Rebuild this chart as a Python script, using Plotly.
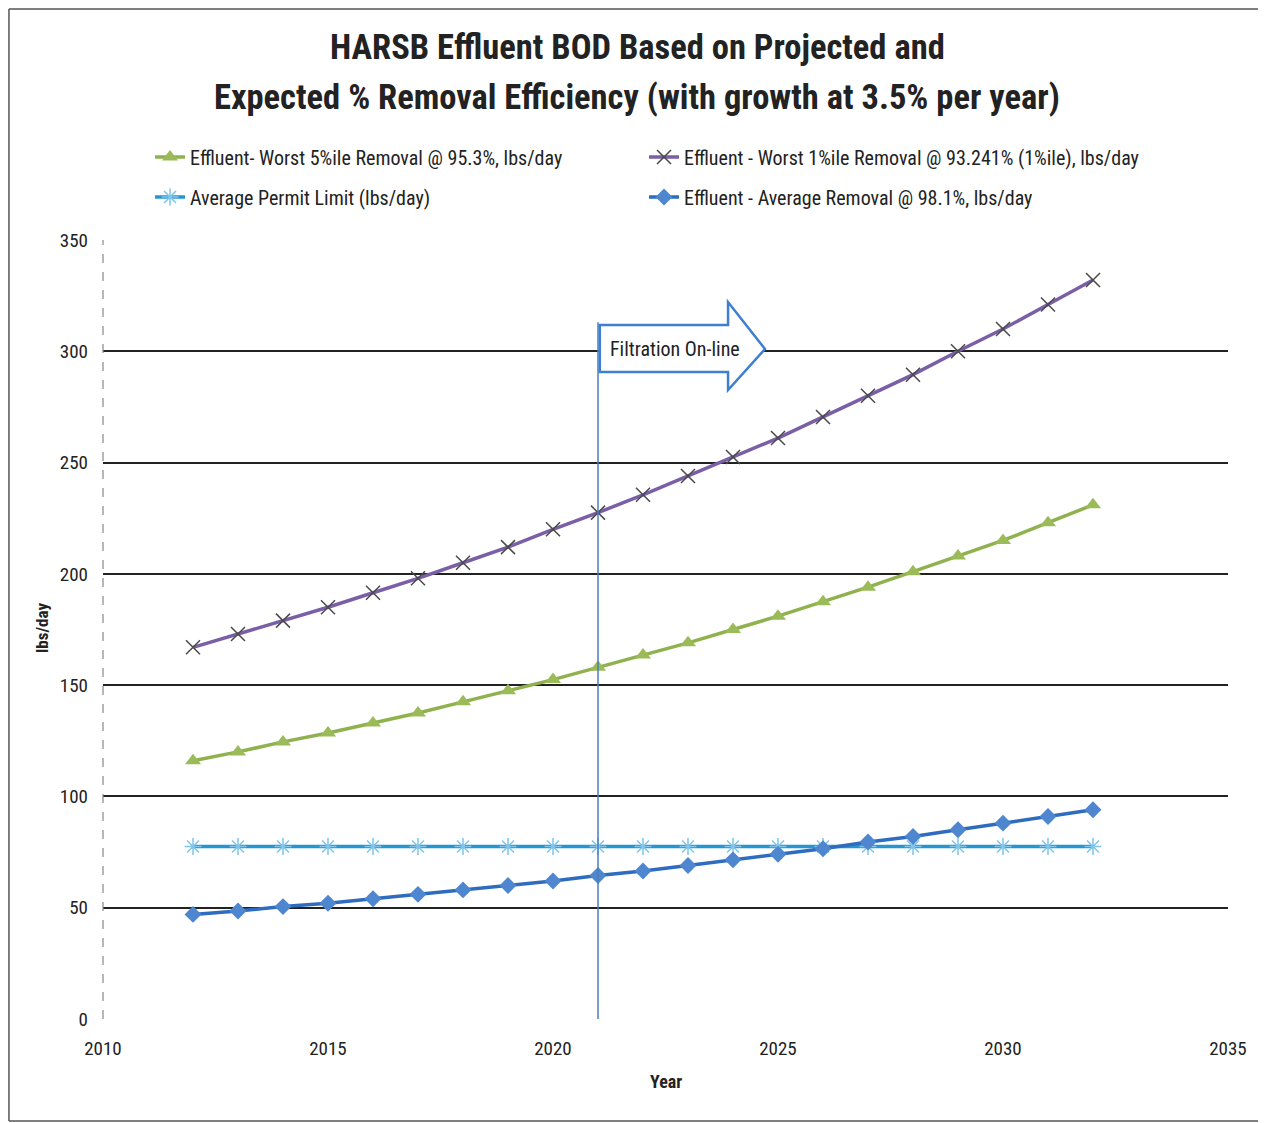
import plotly.graph_objects as go

years = list(range(2012, 2033))
worst5 = [116, 120, 124.5, 128.5, 133, 137.5, 142.5, 147.5, 152.5, 158, 163.5,
          169, 175, 181, 187.5, 194, 201, 208, 215, 223, 231]
worst1 = [167, 173, 179, 185, 191.5, 198, 205, 212, 220, 227.5, 235.5,
          244, 252.5, 261, 270.5, 280, 289.5, 300, 310, 321, 332]
permit = [77.5] * 21
avg = [47, 48.5, 50.5, 52, 54, 56, 58, 60, 62, 64.5, 66.5,
       69, 71.5, 74, 76.5, 79.5, 82, 85, 88, 91, 94]

names = ["Effluent- Worst 5%ile Removal @ 95.3%, lbs/day",
         "Effluent - Worst 1%ile Removal @ 93.241% (1%ile), lbs/day",
         "Average Permit Limit (lbs/day)",
         "Effluent - Average Removal @ 98.1%, lbs/day"]
title_lines = ["HARSB Effluent BOD Based on Projected and",
               "Expected % Removal Efficiency (with growth at 3.5% per year)"]
filtration_year = 2021

FONT = "Liberation Sans Narrow, Roboto Condensed, Arial Narrow, sans-serif"
TXT = "#222"

fig = go.Figure()
fig.add_trace(go.Scatter(x=years, y=worst5, name=names[0], mode="lines+markers",
                         line=dict(color="#8fb24f", width=3.5),
                         marker=dict(symbol="triangle-up", size=14, color="#9bbb59"),
                         legend="legend"))
fig.add_trace(go.Scatter(x=years, y=worst1, name=names[1], mode="lines+markers",
                         line=dict(color="#7a5fa6", width=3.5),
                         marker=dict(symbol="x-thin", size=14, line=dict(color="#4a4a4a", width=1.5)),
                         legend="legend2"))
fig.add_trace(go.Scatter(x=years, y=permit, name=names[2], mode="lines+markers",
                         line=dict(color="#2596d2", width=3.5),
                         marker=dict(symbol="asterisk", size=14, line=dict(color="#7fc4ea", width=1.5)),
                         legend="legend3"))
fig.add_trace(go.Scatter(x=years, y=avg, name=names[3], mode="lines+markers",
                         line=dict(color="#2e6cc0", width=3.5),
                         marker=dict(symbol="diamond", size=13, color="#4f86d0"),
                         legend="legend4"))

# vertical filtration line
fig.add_shape(type="line", x0=filtration_year, x1=filtration_year, y0=0, y1=313,
              xref="x", yref="y", line=dict(color="#4a7ebb", width=1.5))
# arrow
ax0, ax1, ax2 = 2021.04, 2023.89, 2024.71
path = (f"M {ax0},311.8 L {ax1},311.8 L {ax1},322.1 L {ax2},301.0 "
        f"L {ax1},282.6 L {ax1},290.7 L {ax0},290.7 Z")
fig.add_shape(type="path", path=path, xref="x", yref="y",
              fillcolor="white", line=dict(color="#3f7fd0", width=2.5))
fig.add_annotation(x=2022.71, y=301, xref="x", yref="y", text="Filtration On-line",
                   showarrow=False, font=dict(family=FONT, size=20, color=TXT))

# title lines
fig.add_annotation(x=0.4747, y=1.2478, xref="paper", yref="paper", text="<b>" + title_lines[0] + "</b>",
                   showarrow=False, xanchor="center", yanchor="middle",
                   font=dict(family=FONT, size=34.5, color=TXT))
fig.add_annotation(x=0.4747, y=1.1836, xref="paper", yref="paper", text="<b>" + title_lines[1] + "</b>",
                   showarrow=False, xanchor="center", yanchor="middle",
                   font=dict(family=FONT, size=34.5, color=TXT))
# axis titles
fig.add_annotation(x=-0.0542, y=0.502, xref="paper", yref="paper", text="<b>lbs/day</b>",
                   showarrow=False, textangle=-90, xanchor="center", yanchor="middle",
                   font=dict(family=FONT, size=17, color=TXT))
fig.add_annotation(x=0.5004, y=-0.0796, xref="paper", yref="paper", text="<b>Year</b>",
                   showarrow=False, xanchor="center", yanchor="middle",
                   font=dict(family=FONT, size=18, color=TXT))

# figure border (left, top, bottom)
for (x0, y0, x1, y1) in [(-0.0836, -0.1309, -0.0836, 1.2965),
                         (-0.0836, 1.2965, 1.034, 1.2965),
                         (-0.0836, -0.1309, 1.034, -0.1309)]:
    fig.add_shape(type="line", xref="paper", yref="paper", x0=x0, y0=y0, x1=x1, y1=y1,
                  line=dict(color="#555", width=1.5))

# dashed left axis line
fig.add_shape(type="line", xref="paper", yref="paper", x0=0, x1=0, y0=0, y1=1,
              line=dict(color="#888", width=1.2, dash="dash"))

leg_common = dict(orientation="h", xanchor="left", yanchor="middle",
                  font=dict(family=FONT, size=20, color=TXT), bgcolor="rgba(0,0,0,0)")
fig.update_layout(
    width=1258, height=1115,
    margin=dict(l=95, r=38, t=232, b=104, autoexpand=False),
    paper_bgcolor="white", plot_bgcolor="white",
    font=dict(family=FONT, color=TXT),
    legend=dict(x=0.0418, y=1.1065, **leg_common),
    legend2=dict(x=0.4809, y=1.1065, **leg_common),
    legend3=dict(x=0.0418, y=1.0552, **leg_common),
    legend4=dict(x=0.4809, y=1.0552, **leg_common),
    xaxis=dict(range=[2010, 2035], tickvals=[2010, 2015, 2020, 2025, 2030, 2035],
               showgrid=False, zeroline=False, showline=False,
               tickfont=dict(size=19, color=TXT), ticks="", ticklabelstandoff=16),
    yaxis=dict(range=[0, 350], tickvals=list(range(0, 351, 50)),
               showgrid=True, gridcolor="#222", gridwidth=1.5, zeroline=False,
               showline=False, tickfont=dict(size=19, color=TXT), ticks="",
               ticklabelstandoff=14),
    showlegend=True,
)

fig.write_html("out.html")
